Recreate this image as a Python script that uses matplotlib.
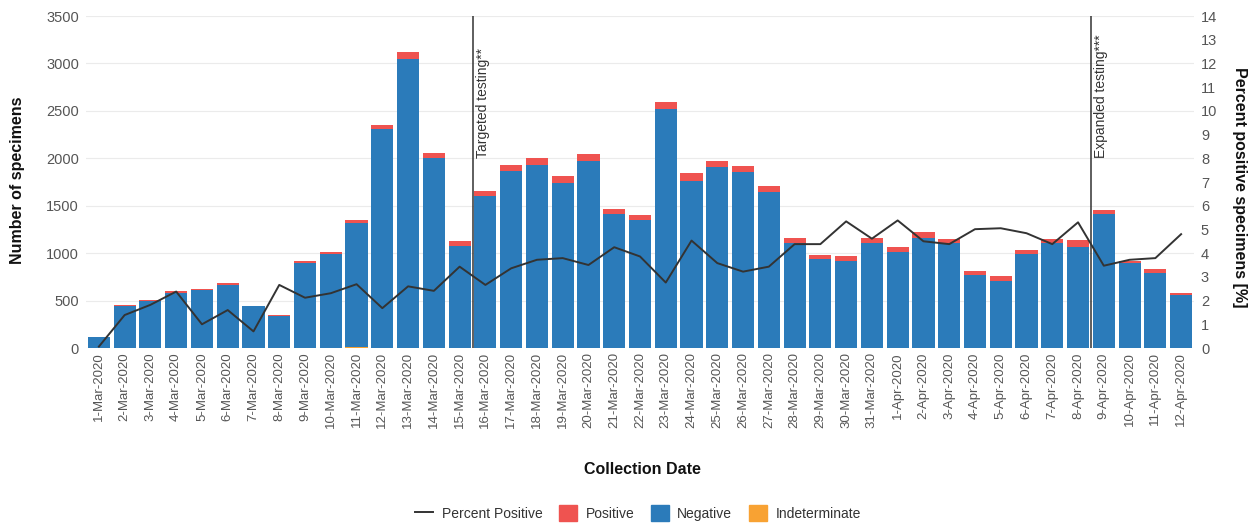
import numpy as np
from matplotlib import pyplot as plt
from matplotlib.patches import Patch
from matplotlib.lines import Line2D

plt.rcParams['font.family'] = ['Liberation Sans', 'DejaVu Sans']

# collection dates, 1-Mar-2020 .. 12-Apr-2020
dates = [f"{d}-Mar-2020" for d in range(1, 32)] + [f"{d}-Apr-2020" for d in range(1, 13)]

negative = [120, 440, 495, 575, 610, 665, 445, 340, 895, 995, 1305, 2310, 3045, 2000, 1080,
            1600, 1865, 1930, 1735, 1968, 1415, 1345, 2520, 1760, 1910, 1855, 1648, 1107, 935, 915,
            1103, 1012, 1163, 1103, 773, 706, 991, 1103, 1068, 1412, 893, 794, 555]
positive = [0, 15, 12, 22, 10, 15, 3, 8, 22, 22, 30, 45, 75, 58, 45,
            50, 67, 78, 78, 80, 53, 55, 70, 85, 65, 67, 56, 49, 48, 55,
            53, 56, 56, 49, 35, 50, 45, 49, 67, 43, 27, 42, 28]
indeterminate = [0] * 43
indeterminate[10] = 15

pct_positive = [0.06, 1.39, 1.82, 2.38, 1.0, 1.6, 0.7, 2.66, 2.12, 2.31, 2.69, 1.68, 2.6, 2.41, 3.43,
                2.66, 3.36, 3.72, 3.79, 3.5, 4.25, 3.86, 2.76, 4.53, 3.58, 3.22, 3.43, 4.38, 4.38, 5.34,
                4.61, 5.38, 4.5, 4.38, 5.01, 5.05, 4.84, 4.38, 5.3, 3.47, 3.72, 3.79, 4.8]

# testing policy changes (between the two dates)
events = [(14.5, "Targeted testing**"), (38.5, "Expanded testing***")]

c_pos = "#EF5350"
c_neg = "#2B7BBA"
c_ind = "#F8A233"
c_line = "#333333"
c_tick = "#555555"

x = np.arange(len(dates))
neg = np.array(negative)
pos = np.array(positive)
ind = np.array(indeterminate)

fig = plt.figure(figsize=(12.55, 5.23), dpi=100)
ax = fig.add_axes([86 / 1255, 1 - 348 / 523, 1108 / 1255, 332 / 523])
ax2 = ax.twinx()

w = 0.86
ax.bar(x, ind, width=w, color=c_ind, zorder=2)
ax.bar(x, neg, width=w, bottom=ind, color=c_neg, zorder=2)
ax.bar(x, pos, width=w, bottom=ind + neg, color=c_pos, zorder=2)

ax.set_xlim(-0.5, len(dates) - 0.5)
ax.set_ylim(0, 3500)
ax.set_yticks(np.arange(0, 3501, 500))
ax.set_xticks(x)
ax.set_xticklabels(dates, rotation=90, fontsize=9.5, color=c_tick)
ax.tick_params(axis='y', labelsize=10.5, labelcolor=c_tick, length=0, pad=5)
ax.tick_params(axis='x', length=0, pad=3)
ax.grid(axis='y', color="#ebebeb", linewidth=0.8, zorder=0)
ax.set_axisbelow(True)

for xe, label in events:
    ax.plot([xe, xe], [0, 3500], color=c_line, linewidth=1.1, zorder=4)
    ax.text(xe + 0.12, 2000, label, rotation=90, ha='left', va='bottom',
            fontsize=10, color="#333333", zorder=5)

ax2.plot(x, pct_positive, color=c_line, linewidth=1.4, zorder=5)
ax2.set_ylim(0, 14)
ax2.set_yticks(range(0, 15))
ax2.tick_params(axis='y', labelsize=10.5, labelcolor=c_tick, length=0, pad=5)

for a in (ax, ax2):
    for s in a.spines.values():
        s.set_visible(False)

fig.text(642 / 1255, 1 - 469 / 523, "Collection Date", ha='center', va='center',
         fontsize=11.5, fontweight='bold', color="#111111")
fig.text(18 / 1255, 1 - 180 / 523, "Number of specimens", ha='center', va='center',
         rotation=90, fontsize=11.5, fontweight='bold', color="#111111")
fig.text(1240 / 1255, 1 - 187 / 523, "Percent positive specimens [%]", ha='center', va='center',
         rotation=270, fontsize=11.5, fontweight='bold', color="#111111")

handles = [Line2D([], [], color=c_line, linewidth=1.4),
           Patch(color=c_pos), Patch(color=c_neg), Patch(color=c_ind)]
labels = ["Percent Positive", "Positive", "Negative", "Indeterminate"]
fig.legend(handles, labels, loc='center', bbox_to_anchor=(638 / 1255, 1 - 513 / 523), ncol=4,
           frameon=False, fontsize=10, handlelength=1.3, handleheight=1.3, columnspacing=1.2,
           handletextpad=0.6, labelcolor="#333333")

fig.savefig("out.png", dpi=100)
